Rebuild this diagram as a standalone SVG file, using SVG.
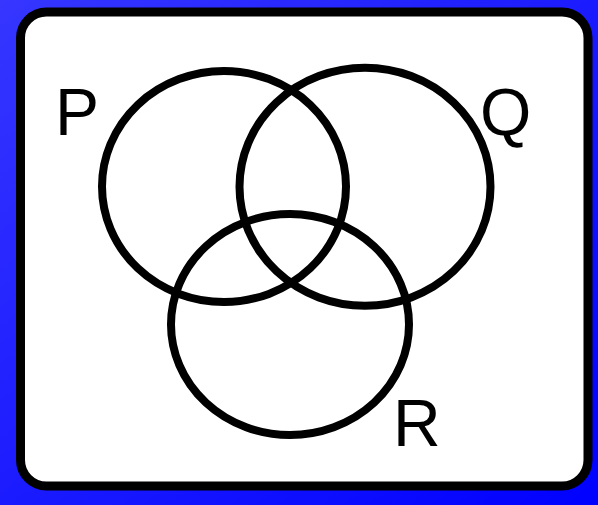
<svg xmlns="http://www.w3.org/2000/svg" width="598" height="505" viewBox="0 0 598 505">
<defs>
<linearGradient id="bg" x1="0" y1="0" x2="1" y2="1">
<stop offset="0" stop-color="#3636ff"/>
<stop offset="1" stop-color="#0000ff"/>
</linearGradient>
</defs>
<style>
.set{fill:none;stroke:#000;stroke-width:8}
.lbl{font-family:"Liberation Sans",Arial,sans-serif;font-size:66px;fill:#000}
</style>
<rect x="0" y="0" width="598" height="505" fill="url(#bg)"/>
<rect id="universe" x="20.5" y="12" width="567.5" height="474" rx="26" fill="#fff" stroke="#000" stroke-width="9"/>
<g id="P"><ellipse class="set" cx="224" cy="186.5" rx="122" ry="115.5"/><text class="lbl" x="55" y="135">P</text></g>
<g id="Q"><ellipse class="set" cx="365" cy="186.75" rx="125.5" ry="119"/><text class="lbl" x="480" y="135">Q</text></g>
<g id="R"><ellipse class="set" cx="290" cy="324.5" rx="119" ry="110.5"/><text class="lbl" x="393" y="446">R</text></g>
<g id="connectors"/>
</svg>
